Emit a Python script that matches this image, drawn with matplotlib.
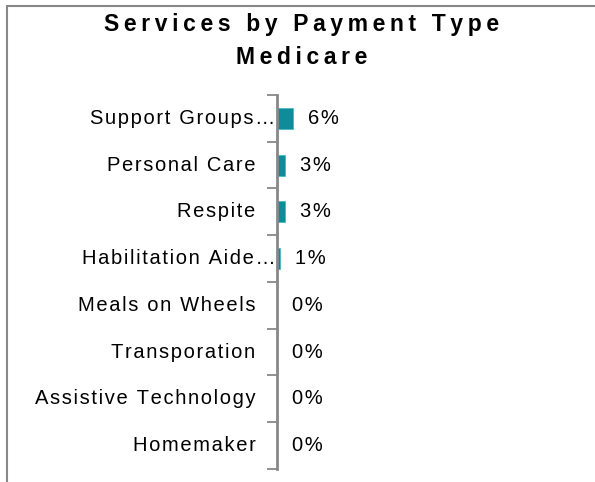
import matplotlib.pyplot as plt
from matplotlib.patches import Rectangle

# data
services = ['Support Groups…', 'Personal Care', 'Respite', 'Habilitation Aide…',
            'Meals on Wheels', 'Transporation', 'Assistive Technology', 'Homemaker']
share = [0.06, 0.03, 0.03, 0.01, 0.0, 0.0, 0.0, 0.0]
labels = ['6%', '3%', '3%', '1%', '0%', '0%', '0%', '0%']

plt.rcParams['font.family'] = ['Liberation Sans', 'DejaVu Sans']


def spaced(s, gap='\u200a'):
    # loose letter spacing like the original export
    return gap.join(s)


fig = plt.figure(figsize=(5.95, 4.82), dpi=100)
ax = fig.add_axes([0.4655, 0.027, 0.45, 0.776])

ypos = list(range(len(services)))
ax.barh(ypos, share, height=0.45, color='#0E8C9A', edgecolor='#3cb5c2', linewidth=0.5)

ax.set_ylim(len(services) - 0.5, -0.5)
ax.set_xlim(0, 1)
ax.set_yticks([i - 0.5 for i in range(len(services) + 1)])
ax.set_yticklabels([])
ax.tick_params(axis='y', length=7, width=1.3, color='#888888', direction='out')
ax.set_xticks([])

for s in ['top', 'right', 'bottom']:
    ax.spines[s].set_visible(False)
ax.spines['left'].set_color('#888888')
ax.spines['left'].set_linewidth(2)

# category labels (truncated ones run up to the axis)
for y, name in zip(ypos, services):
    dx = -1 if name.endswith('…') else -15.5
    ax.annotate(spaced(name), (0, y), xycoords=('axes fraction', 'data'),
                xytext=(dx, 0), textcoords='offset points',
                ha='right', va='center', fontsize=14.5)

for y, v, t in zip(ypos, share, labels):
    ax.annotate(spaced(t), (v, y), xytext=(11, 0), textcoords='offset points',
                va='center', ha='left', fontsize=14.5)

# title
fig.text(0.507, 0.936, spaced('Services by Payment Type', '\u2009'), ha='center',
         va='baseline', fontsize=16.5, fontweight='bold')
fig.text(0.507, 0.867, spaced('Medicare', '\u2009'), ha='center', va='baseline',
         fontsize=16.5, fontweight='bold')

# outer frame (left and top edges visible)
frame = Rectangle((7 / 595, -0.1), 1.2, (482 - 6) / 482 + 0.1, transform=fig.transFigure,
                  fill=False, edgecolor='#888888', linewidth=1.5)
fig.patches.append(frame)

fig.savefig('out.png', dpi=100)
